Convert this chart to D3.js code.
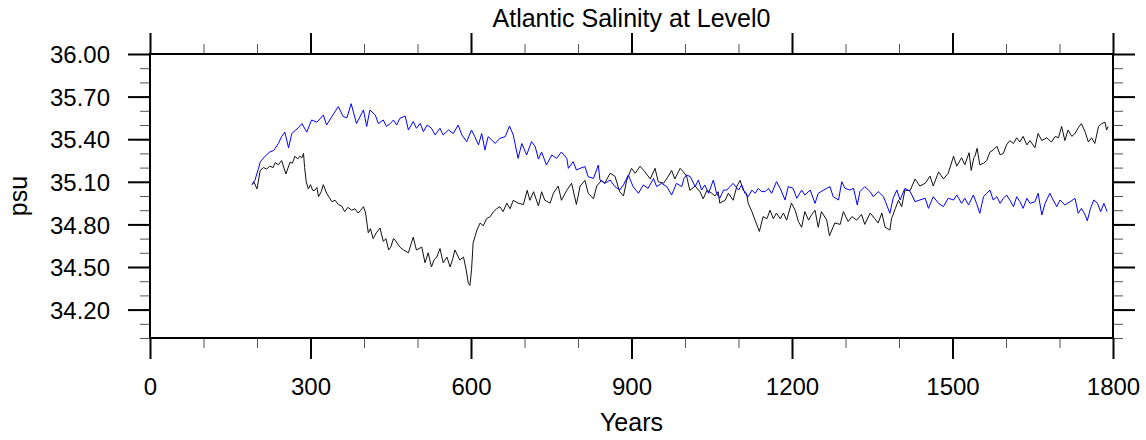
<!DOCTYPE html>
<html>
<head>
<meta charset="utf-8">
<script src="https://cdn.jsdelivr.net/npm/d3@7"></script>
<style>
  body { margin: 0; background: #fff; }
  svg text { font-family: "Liberation Sans", Arial, Helvetica, sans-serif; fill: #000; }
</style>
</head>
<body>
<div id="chart"></div>
<script>
// Black series (years, psu)
const blackYears = [191,194,200,206,212,218,224,230,234,240,246,254,262,266,271,276,280,284,287,289,292,296,300,304,308,312,315,320,324,330,335,340,346,352,358,364,370,377,383,389,394,399,403,408,412,417,423,430,436,441,446,450,455,
  458,467,474,483,492,498,508,514,520,526,531,536,542,548,555,561,566,570,579,586,591,595,598,601,604,608,611,617,623,629,636,642,648,654,660,667,673,679,688,698,705,710,717,
  726,732,738,748,754,763,769,779,788,797,804,813,819,829,835,844,850,860,869,878,885,891,900,907,916,925,935,944,950,960,969,975,981,991,
  997,1003,1009,1019,1028,1034,1041,1050,1056,1062,1065,1075,1081,1090,1097,1103,1109,1115,1118,1125,1131,1139,1146,1153,1159,1165,1171,1178,1184,1190,1199,1206,1212,1218,1224,1231,1237,1243,1249,1255,1265,1270,
  1280,1290,1296,1305,1312,1321,1330,1336,1346,1355,1361,1368,1374,1383,1386,1393,1399,1405,1411,1421,1430,1439,1449,1458,1464,1474,1483,1492,1502,1508,1517,1523,1531,1535,1540,
  1542,1546,1551,1558,1564,1570,1576,1583,1589,1595,1601,1607,1614,1620,1626,1632,1639,1645,1654,1660,1667,1676,1685,1692,1698,1704,1710,1716,1723,1729,1735,1741,1748,1754,1760,1766,1773,1779,1785,1788,1791];
const blackValues = [35.08,35.10,35.05,35.18,35.20,35.19,35.21,35.20,35.235,35.22,35.25,35.155,35.24,35.23,35.28,35.26,35.28,35.27,35.30,35.20,35.10,35.05,35.08,35.04,35.04,35.06,34.995,35.03,35.08,35.02,34.99,34.96,34.97,34.94,34.93,34.89,34.92,34.90,34.91,34.88,34.90,34.925,34.88,34.74,34.77,34.70,34.74,34.775,34.68,34.70,34.62,34.64,34.70,
  34.69,34.64,34.62,34.60,34.71,34.62,34.64,34.53,34.60,34.50,34.55,34.57,34.63,34.53,34.57,34.50,34.56,34.62,34.55,34.57,34.48,34.385,34.37,34.48,34.67,34.72,34.76,34.81,34.79,34.84,34.855,34.89,34.91,34.925,34.89,34.95,34.91,34.97,34.95,34.94,35.04,34.97,35.03,
  34.93,35.03,34.97,34.95,35.02,35.07,34.97,35.04,35.09,34.94,35.07,35.11,35.02,34.98,35.07,35.11,35.09,35.16,35.14,35.03,35.00,35.11,35.195,35.16,35.21,35.17,35.12,35.195,35.10,35.09,35.14,35.18,35.12,35.195,
  35.17,35.14,35.04,35.07,35.03,34.98,35.04,35.02,35.00,35.03,34.95,34.97,35.02,34.97,35.07,35.11,35.04,35.02,34.95,34.89,34.83,34.75,34.855,34.84,34.90,34.84,34.88,34.84,34.88,34.83,34.95,34.90,34.82,34.78,34.89,34.83,34.87,34.90,34.78,34.89,34.83,34.72,
  34.81,34.80,34.89,34.82,34.855,34.83,34.87,34.80,34.88,34.84,34.81,34.88,34.78,34.76,34.84,34.91,34.97,34.925,35.04,35.04,35.12,35.07,35.09,35.14,35.07,35.17,35.12,35.16,35.28,35.21,35.27,35.22,35.305,35.18,35.27,
  35.28,35.336,35.22,35.23,35.25,35.31,35.324,35.35,35.29,35.30,35.36,35.39,35.37,35.41,35.38,35.42,35.36,35.39,35.34,35.44,35.39,35.41,35.38,35.42,35.41,35.49,35.39,35.465,35.42,35.44,35.48,35.51,35.45,35.38,35.41,35.37,35.49,35.51,35.52,35.465,35.49];

// Blue series (years, psu)
const blueYears = [191,196,203,206,215,224,231,240,246,252,259,265,277,284,293,302,312,324,330,340,352,361,368,376,386,399,405,411,421,427,436,442,
  449,455,461,467,477,483,492,498,505,511,518,526,533,542,548,558,567,576,583,592,601,607,614,620,626,632,639,645,654,664,672,679,688,695,704,713,720,
  726,732,741,751,760,769,779,782,791,797,804,813,819,829,838,841,850,860,869,878,885,894,903,913,922,931,941,947,956,966,975,984,994,998,
  1003,1010,1019,1025,1031,1037,1044,1053,1059,1065,1072,1078,1084,1090,1100,1106,1112,1118,1125,1131,1137,1143,1150,1156,1162,1171,1178,1187,1193,1202,1209,1218,1224,1234,1243,1249,1259,1265,
  1271,1277,1287,1293,1299,1308,1315,1322,1327,1336,1346,1352,1361,1371,1377,1383,1389,1396,1402,1411,1421,1430,1439,1449,1455,1464,1474,1483,1492,1502,1508,1517,1523,1530,1539,
  1545,1551,1558,1564,1570,1576,1583,1589,1595,1601,1607,1614,1620,1626,1632,1639,1645,1654,1660,1667,1673,1682,1688,1695,1701,1710,1720,1729,1735,1741,1748,1752,1758,1764,1771,1777,1783,1789];
const blueValues = [35.08,35.11,35.195,35.24,35.28,35.31,35.32,35.37,35.418,35.45,35.34,35.44,35.48,35.51,35.45,35.535,35.52,35.57,35.50,35.56,35.63,35.56,35.55,35.65,35.51,35.606,35.49,35.606,35.57,35.51,35.535,35.49,
  35.51,35.535,35.50,35.547,35.563,35.465,35.524,35.477,35.512,35.453,35.50,35.477,35.43,35.477,35.43,35.465,35.44,35.50,35.43,35.383,35.465,35.418,35.36,35.44,35.324,35.418,35.394,35.37,35.406,35.418,35.493,35.43,35.265,35.37,35.289,35.383,35.348,
  35.26,35.31,35.218,35.289,35.265,35.31,35.265,35.195,35.242,35.183,35.195,35.207,35.136,35.124,35.218,35.113,35.089,35.113,35.066,35.042,35.078,35.148,35.066,35.019,35.078,35.054,35.124,35.066,35.089,35.066,35.007,35.089,35.066,35.124,
  35.148,35.136,35.066,35.113,35.042,35.078,35.019,35.113,35.019,34.984,35.042,35.042,35.066,35.089,35.042,35.078,35.019,34.995,35.042,35.019,35.054,35.031,35.031,35.054,35.019,35.101,35.054,34.972,35.066,35.054,34.984,35.042,35.007,35.042,34.948,35.019,35.042,35.054,
  35.066,34.995,34.972,35.101,35.054,35.042,35.054,34.937,35.031,35.066,35.031,34.995,35.031,34.995,34.937,34.878,34.984,35.042,34.972,35.054,35.031,34.960,34.972,34.984,34.913,34.995,34.948,34.925,34.984,34.972,35.007,34.948,34.984,34.937,35.007,
  34.948,34.878,34.995,35.019,35.042,34.972,34.995,34.948,34.984,35.007,34.972,34.925,34.995,34.960,34.913,34.984,34.948,34.960,35.019,34.866,34.948,35.019,34.972,34.925,34.972,34.937,34.960,34.984,34.878,34.913,34.866,34.826,34.913,34.972,34.948,34.890,34.948,34.890];

const xMajor = [0, 300, 600, 900, 1200, 1500, 1800];
const xMinor = d3.range(0, 1801, 100);
const yMajor = [34.2, 34.5, 34.8, 35.1, 35.4, 35.7, 36.0];
const yMinor = d3.range(340, 361, 1).map(d => d / 10);

const width = 1146, height = 440;
const pLeft = 150, pRight = 1113, pTop = 54, pBottom = 338;

const svg = d3.select("#chart").append("svg")
  .attr("width", width)
  .attr("height", height);

const x = d3.scaleLinear().domain([0, 1800]).range([pLeft, pRight]);
const y = d3.scaleLinear().domain([34, 36]).range([pBottom, pTop]);

// series
const line = d3.line().x(d => x(d[0])).y(d => y(d[1]));
svg.append("path")
  .attr("d", line(blackYears.map((yr, i) => [yr, blackValues[i]])))
  .attr("fill", "none").attr("stroke", "#111").attr("stroke-width", 1);
svg.append("path")
  .attr("d", line(blueYears.map((yr, i) => [yr, blueValues[i]])))
  .attr("fill", "none").attr("stroke", "#0000ff").attr("stroke-width", 1);

// axes
function styleAxis(g, w, col) {
  g.select(".domain").remove();
  g.selectAll(".tick line").attr("stroke", col).attr("stroke-width", w);
}
const noLab = () => "";

svg.append("g").attr("transform", `translate(0,${pBottom})`)
  .call(d3.axisBottom(x).tickValues(xMinor).tickSize(10).tickFormat(noLab))
  .call(g => styleAxis(g, 1, "#555"));
svg.append("g").attr("transform", `translate(0,${pTop})`)
  .call(d3.axisTop(x).tickValues(xMinor).tickSize(10).tickFormat(noLab))
  .call(g => styleAxis(g, 1, "#555"));
svg.append("g").attr("transform", `translate(${pLeft},0)`)
  .call(d3.axisLeft(y).tickValues(yMinor).tickSize(10).tickFormat(noLab))
  .call(g => styleAxis(g, 1, "#555"));
svg.append("g").attr("transform", `translate(${pRight},0)`)
  .call(d3.axisRight(y).tickValues(yMinor).tickSize(10).tickFormat(noLab))
  .call(g => styleAxis(g, 1, "#555"));

const xb = svg.append("g").attr("transform", `translate(0,${pBottom})`)
  .call(d3.axisBottom(x).tickValues(xMajor).tickSize(21).tickFormat(d3.format("d")))
  .call(g => styleAxis(g, 2, "#000"));
xb.selectAll("text").attr("y", 57).attr("dy", null)
  .attr("font-size", 24).attr("font-family", null);

svg.append("g").attr("transform", `translate(0,${pTop})`)
  .call(d3.axisTop(x).tickValues(xMajor).tickSize(21).tickFormat(noLab))
  .call(g => styleAxis(g, 2, "#000"));

const yl = svg.append("g").attr("transform", `translate(${pLeft},0)`)
  .call(d3.axisLeft(y).tickValues(yMajor).tickSize(22).tickFormat(d3.format(".2f")))
  .call(g => styleAxis(g, 2, "#000"));
yl.selectAll("text").attr("x", -40).attr("dy", "0.36em")
  .attr("font-size", 24).attr("font-family", null);

svg.append("g").attr("transform", `translate(${pRight},0)`)
  .call(d3.axisRight(y).tickValues(yMajor).tickSize(22).tickFormat(noLab))
  .call(g => styleAxis(g, 2, "#000"));

// frame
svg.append("rect")
  .attr("x", pLeft).attr("y", pTop)
  .attr("width", pRight - pLeft).attr("height", pBottom - pTop)
  .attr("fill", "none").attr("stroke", "#000").attr("stroke-width", 2);

// titles
svg.append("text")
  .attr("x", (pLeft + pRight) / 2).attr("y", 27)
  .attr("text-anchor", "middle").attr("font-size", 25)
  .text("Atlantic Salinity at Level0");
svg.append("text")
  .attr("x", (pLeft + pRight) / 2).attr("y", 431)
  .attr("text-anchor", "middle").attr("font-size", 25)
  .text("Years");
svg.append("text")
  .attr("transform", `translate(27,${(pTop + pBottom) / 2}) rotate(-90)`)
  .attr("text-anchor", "middle").attr("font-size", 25)
  .text("psu");
</script>
</body>
</html>
